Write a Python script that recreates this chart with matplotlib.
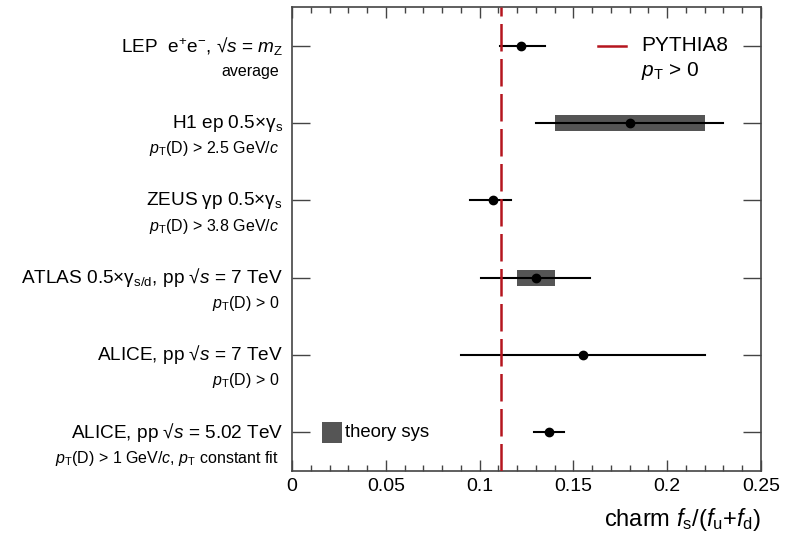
import matplotlib
matplotlib.use('Agg')
import matplotlib.pyplot as plt
from matplotlib.ticker import MultipleLocator
from matplotlib.patches import Rectangle

plt.rcParams['font.family'] = ['Liberation Sans', 'DejaVu Sans']
plt.rcParams['mathtext.fontset'] = 'custom'
plt.rcParams['mathtext.rm'] = 'Liberation Sans'
plt.rcParams['mathtext.it'] = 'Liberation Sans:italic'
plt.rcParams['mathtext.bf'] = 'Liberation Sans:bold'
plt.rcParams['mathtext.fallback'] = 'stixsans'

# measurements, top to bottom
labels = [
    r'LEP  e$^{+}$e$^{-}$, √$s$ = $m_{\rm Z}$',
    r'H1 ep 0.5×γ$_{\rm s}$',
    r'ZEUS γp 0.5×γ$_{\rm s}$',
    r'ATLAS 0.5×γ$_{\rm s/d}$, pp √$s$ = 7 TeV',
    r'ALICE, pp √$s$ = 7 TeV',
    r'ALICE, pp √$s$ = 5.02 TeV',
]
sublabels = [
    'average',
    r'$p_{\rm T}$(D) > 2.5 GeV/$c$',
    r'$p_{\rm T}$(D) > 3.8 GeV/$c$',
    r'$p_{\rm T}$(D) > 0',
    r'$p_{\rm T}$(D) > 0',
    r'$p_{\rm T}$(D) > 1 GeV/$c$, $p_{\rm T}$ constant fit',
]
values = [0.122, 0.180, 0.107, 0.130, 0.155, 0.137]
err_lo = [0.011, 0.050, 0.012, 0.029, 0.065, 0.008]
err_hi = [0.013, 0.050, 0.010, 0.029, 0.065, 0.008]
# theory systematic boxes (None where there is none)
sys_lo = [None, 0.040, None, 0.010, None, None]
sys_hi = [None, 0.040, None, 0.010, None, None]
pythia8 = 0.1116

fig = plt.figure(figsize=(7.88, 5.33), dpi=100)
ax = fig.add_axes([292/788, 1-471/533, (761-292)/788, (471-7)/533])

n = len(values)
ypos = [n - 0.5 - i for i in range(n)]
box_h = 0.21

for i in range(n):
    y = ypos[i]
    if sys_lo[i] is not None:
        ax.add_patch(Rectangle((values[i]-sys_lo[i], y-box_h/2), sys_lo[i]+sys_hi[i], box_h,
                               facecolor='#555555', edgecolor='none', zorder=2))
    ax.plot([values[i]-err_lo[i], values[i]+err_hi[i]], [y, y], color='black', lw=1.5, zorder=3)
    ax.plot(values[i], y, 'o', color='black', ms=6, zorder=4)

ax.axvline(pythia8, color='#b5151e', lw=1.8, dashes=(11, 3), zorder=3)

ax.set_xlim(0, 0.25)
ax.set_ylim(0, n)
ax.xaxis.set_major_locator(MultipleLocator(0.05))
ax.xaxis.set_minor_locator(MultipleLocator(0.01))
ax.set_xticks([0, 0.05, 0.1, 0.15, 0.2, 0.25])
ax.set_xticklabels(['0', '0.05', '0.1', '0.15', '0.2', '0.25'])
ax.tick_params(axis='x', which='major', direction='in', length=8, width=1, top=True, labelsize=14, pad=5, color='#444444')
ax.tick_params(axis='x', which='minor', direction='in', length=4, width=1, top=True, color='#444444')
ax.set_yticks(ypos)
ax.set_yticklabels([])
ax.tick_params(axis='y', direction='in', length=13, width=1, right=True, color='#444444')
for s in ax.spines.values():
    s.set_color('#444444')
    s.set_linewidth(1.2)

for i in range(n):
    y = ypos[i]
    ax.annotate(labels[i], xy=(0, y), xycoords=('axes fraction', 'data'), xytext=(-9, 0),
                textcoords='offset pixels', ha='right', va='center', fontsize=13.7, annotation_clip=False)
    ax.annotate(sublabels[i], xy=(0, y), xycoords=('axes fraction', 'data'), xytext=(-13, -26),
                textcoords='offset pixels', ha='right', va='center', fontsize=11.5, annotation_clip=False)

ax.set_xlabel(r'charm $f_{\rm s}$/($f_{\rm u}$+$f_{\rm d}$)', fontsize=17, loc='right', labelpad=8)

# legend entries
ax.plot([0.163, 0.178], [5.5, 5.5], color='#b5151e', lw=1.8, clip_on=False)
ax.text(0.186, 5.5, 'PYTHIA8', fontsize=15, va='center', ha='left')
ax.text(0.186, 5.17, r'$p_{\rm T}$ > 0', fontsize=15, va='center', ha='left')
ax.add_patch(Rectangle((0.0162, 0.5-0.135), 0.0106, 0.27, facecolor='#555555', edgecolor='none'))
ax.text(0.0285, 0.5, 'theory sys', fontsize=13.3, va='center', ha='left')

fig.savefig('out.png', dpi=100)
